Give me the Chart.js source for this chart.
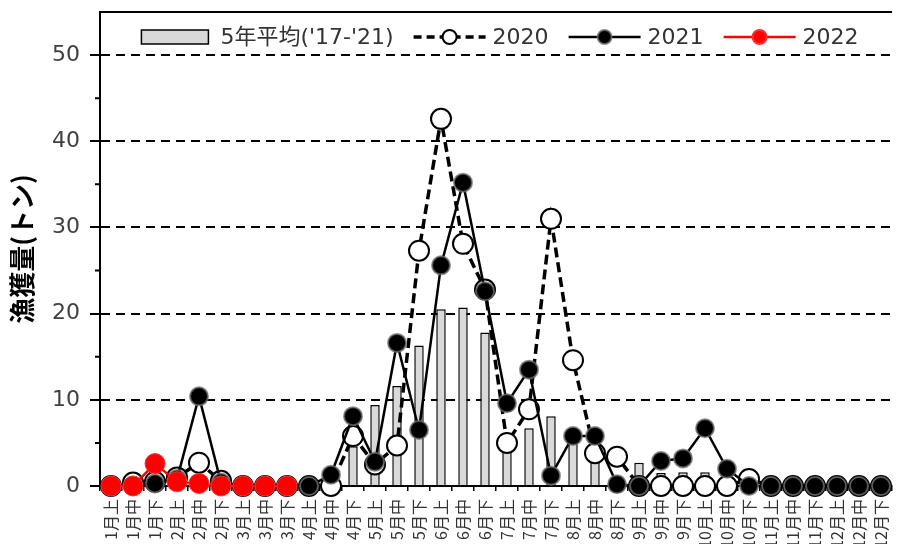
<!DOCTYPE html>
<html><head><meta charset="utf-8">
<script src="https://cdn.jsdelivr.net/npm/chart.js@4/dist/chart.umd.min.js"></script>
<style>html,body{margin:0;padding:0;background:#fff;overflow:hidden;width:898px;height:544px}canvas{display:block}</style>
</head><body>
<canvas id="c" width="904" height="544"></canvas>
<script>
const categories = ['1月上','1月中','1月下','2月上','2月中','2月下','3月上','3月中','3月下',
  '4月上','4月中','4月下','5月上','5月中','5月下','6月上','6月中','6月下',
  '7月上','7月中','7月下','8月上','8月中','8月下','9月上','9月中','9月下',
  '10月上','10月中','10月下','11月上','11月中','11月下','12月上','12月中','12月下'];
const avgLabel = "5年平均('17-'21)";
const avg5 = [0.2,0.3,0.8,1.0,1.0,0.5,0.2,0.1,0.1,
  0.2,0.8,4.6,9.4,11.6,16.3,20.5,20.7,17.8,
  5.0,6.7,8.1,5.0,3.8,1.2,2.7,1.5,1.6,
  1.6,1.0,0.5,0.2,0.1,0.1,0.1,0.1,0.1];
const catch2020 = [0,0.4,0.5,1.0,2.7,0.6,0,0,0,
  0,0,5.8,2.5,4.7,27.3,42.6,28.1,22.8,
  5.0,8.9,31.0,14.6,3.8,3.4,0,0,0,
  0,0,0.8,0,0,0,0,0,0];
const catch2021 = [0,0,0.3,0.8,10.4,0.4,0,0,0,
  0,1.3,8.1,2.8,16.6,6.5,25.6,35.2,22.6,
  9.6,13.5,1.2,5.8,5.8,0.2,0,2.9,3.2,
  6.7,2.0,0,0,0,0,0,0,0];
const catch2022 = [0,0,2.6,0.5,0.3,0,0,0,0,
  null,null,null,null,null,null,null,null,null,
  null,null,null,null,null,null,null,null,null,
  null,null,null,null,null,null,null,null,null];
const yTitle = '漁獲量(トン)';
const yMin = 0, yMax = 55, yStep = 5, yLabelStep = 10, yGridTop = 50;

const NUM_FONT = "'DejaVu Sans', 'Noto Sans CJK JP', sans-serif";
const CJK_FONT = "'Noto Sans CJK JP', sans-serif";

const axisDecor = {
  id: 'axisDecor',
  afterDraw(chart) {
    const {ctx, chartArea: a, scales: {y}} = chart;
    ctx.save();
    ctx.strokeStyle = '#000';
    ctx.lineWidth = 2;
    ctx.beginPath();
    ctx.moveTo(a.left - 1, a.top);
    ctx.lineTo(a.right, a.top);
    ctx.stroke();
    ctx.beginPath();
    y.ticks.forEach(t => {
      if (t.value % yLabelStep !== 0 && t.value < yGridTop) {
        const py = y.getPixelForValue(t.value);
        ctx.moveTo(a.left - 5, py);
        ctx.lineTo(a.left, py);
      }
    });
    ctx.stroke();
    ctx.restore();
  }
};

const customLegend = {
  id: 'customLegend',
  afterDraw(chart) {
    const {ctx, chartArea: a} = chart;
    const items = chart.data.datasets.slice().sort((p, q) => q.order - p.order);
    ctx.save();
    ctx.font = "22px " + NUM_FONT;
    const symW = 72, gapT = 7, gapI = 20;
    const widths = items.map(d => ctx.measureText(d.label).width);
    const total = items.length * (symW + gapT) + widths.reduce((s, w) => s + w, 0) + (items.length - 1) * gapI;
    let x = (a.left + a.right) / 2 - total / 2 + 4;
    const cy = a.top + 25;
    items.forEach((d, i) => {
      if (d.type === 'bar') {
        ctx.fillStyle = d.backgroundColor;
        ctx.strokeStyle = d.borderColor;
        ctx.lineWidth = 1.5;
        ctx.fillRect(x, cy - 7, symW - 5, 14);
        ctx.strokeRect(x, cy - 7, symW - 5, 14);
      } else {
        ctx.strokeStyle = d.borderColor;
        ctx.lineWidth = d.borderWidth;
        ctx.setLineDash(d.borderDash ? [8, 5] : []);
        ctx.beginPath();
        ctx.moveTo(x, cy);
        ctx.lineTo(x + symW, cy);
        ctx.stroke();
        ctx.setLineDash([]);
        ctx.beginPath();
        ctx.arc(x + symW / 2, cy, 7, 0, Math.PI * 2);
        ctx.fillStyle = d.pointBackgroundColor;
        ctx.fill();
        ctx.lineWidth = 2;
        ctx.strokeStyle = d.pointBorderColor;
        ctx.stroke();
      }
      x += symW + gapT;
      ctx.fillStyle = '#333';
      ctx.textBaseline = 'middle';
      ctx.textAlign = 'left';
      ctx.fillText(d.label, x, cy + 1);
      x += widths[i] + gapI;
    });
    ctx.restore();
  }
};

function zeroPad(s) { s.paddingTop = 0; s.paddingBottom = 0; s.paddingLeft = 0; s.paddingRight = 0; }

new Chart(document.getElementById('c'), {
  data: {
    labels: categories,
    datasets: [
      {type: 'line', label: '2022', data: catch2022, order: 0,
        borderColor: '#ff0000', borderWidth: 2.5, pointRadius: 10,
        pointBackgroundColor: '#ff0000', pointBorderColor: '#ff3030', pointBorderWidth: 1, clip: false},
      {type: 'line', label: '2021', data: catch2021, order: 1,
        borderColor: '#000', borderWidth: 2.5, pointRadius: 9,
        pointBackgroundColor: '#000', pointBorderColor: 'rgba(110,110,110,0.75)', pointBorderWidth: 2, clip: false},
      {type: 'line', label: '2020', data: catch2020, order: 2,
        borderColor: '#000', borderWidth: 3.5, borderDash: [10, 5], pointRadius: 10,
        pointBackgroundColor: '#fff', pointBorderColor: '#000', pointBorderWidth: 2, clip: false},
      {type: 'bar', label: avgLabel, data: avg5, order: 3,
        backgroundColor: '#d9d9d9', borderColor: '#000', borderWidth: 1.5,
        barPercentage: 0.43, categoryPercentage: 1}
    ]
  },
  options: {
    responsive: false, animation: false, devicePixelRatio: 1,
    layout: {padding: {top: 10, right: 1, left: 0, bottom: 0}},
    plugins: {legend: {display: false}, tooltip: {enabled: false}},
    scales: {
      x: {
        offset: true,
        grid: {offset: true, drawOnChartArea: false, color: '#000', tickLength: 5, lineWidth: 1.5},
        border: {color: '#000', width: 2},
        ticks: {autoSkip: false, maxRotation: 90, minRotation: 90, padding: 8, color: '#333',
          font: {family: CJK_FONT, size: 16}},
        afterFit(s) { s.height = 58; zeroPad(s); }
      },
      y: {
        min: yMin, max: yMax,
        ticks: {stepSize: yStep, padding: 10, color: '#404040',
          callback: v => (v % yLabelStep === 0 && v <= yGridTop) ? String(v) : '',
          font: {family: NUM_FONT, size: 22}},
        grid: {
          color: c => (c.tick && c.tick.value % yLabelStep === 0 && c.tick.value > 0 && c.tick.value <= yGridTop) ? '#000' : 'rgba(0,0,0,0)',
          tickColor: c => (c.tick && c.tick.value % yLabelStep === 0 && c.tick.value <= yGridTop) ? '#000' : 'rgba(0,0,0,0)',
          lineWidth: 2, tickLength: 10, tickWidth: 2
        },
        border: {color: '#000', width: 2, dash: [9, 6]},
        title: {display: true, text: yTitle, color: '#000',
          font: {family: CJK_FONT, size: 26, weight: 'bold'}, padding: {top: 7, bottom: 0}},
        afterFit(s) { s.width = 100; zeroPad(s); }
      }
    }
  },
  plugins: [axisDecor, customLegend]
});
</script>
</body></html>
